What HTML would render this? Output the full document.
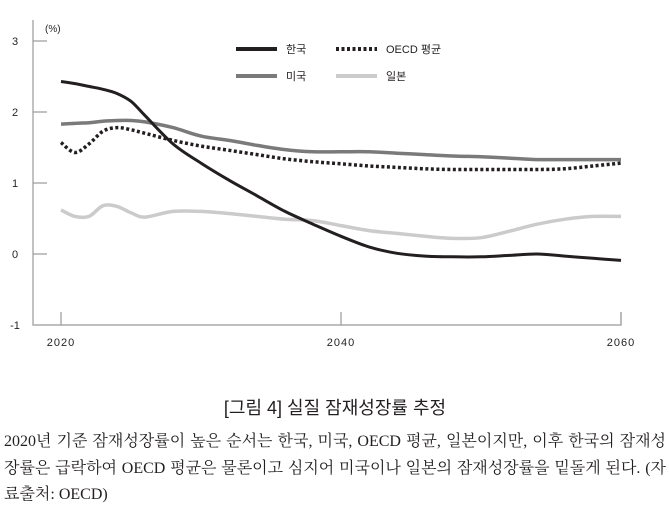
<!DOCTYPE html>
<html><head><meta charset="utf-8"><style>
body{margin:0;width:670px;height:515px;background:#fff;overflow:hidden;font-family:"Liberation Sans","Noto Sans CJK KR",sans-serif;color:#231f20}
svg{position:absolute;left:0;top:0}
.cap{position:absolute;left:0;width:670px;top:394px;text-align:center;font-size:18px;font-family:"Liberation Sans","Noto Sans CJK KR",sans-serif;color:#231f20}
.ln{position:absolute;left:4px;width:662px;font-size:16px;font-family:"Liberation Serif","Noto Serif CJK SC",serif;text-align:justify;text-align-last:justify;white-space:nowrap;color:#231f20;line-height:18px}
.ln.last{text-align-last:left}
</style></head><body>
<svg id="chart" width="670" height="380"></svg>
<div class="cap">[그림 4] 실질 잠재성장률 추정</div>
<div class="ln" style="top:433px">2020년 기준 잠재성장률이 높은 순서는 한국, 미국, OECD 평균, 일본이지만, 이후 한국의 잠재성</div>
<div class="ln" style="top:460px">장률은 급락하여 OECD 평균은 물론이고 심지어 미국이나 일본의 잠재성장률을 밑돌게 된다. (자</div>
<div class="ln last" style="top:486px">료출처: OECD)</div>
<script>
const years=[2020,2021,2022,2023,2024,2025,2026,2028,2030,2032,2034,2036,2038,2040,2042,2044,2046,2048,2050,2052,2054,2056,2058,2060];
const korea=[2.43,2.40,2.36,2.32,2.26,2.15,1.95,1.55,1.28,1.04,0.82,0.60,0.42,0.25,0.10,0.01,-0.03,-0.04,-0.04,-0.02,0.00,-0.03,-0.06,-0.09];
const usa=[1.83,1.84,1.85,1.87,1.88,1.88,1.86,1.78,1.66,1.60,1.53,1.47,1.44,1.44,1.44,1.42,1.40,1.38,1.37,1.35,1.33,1.33,1.33,1.33];
const oecd=[1.57,1.43,1.55,1.73,1.78,1.75,1.70,1.60,1.52,1.46,1.40,1.34,1.30,1.27,1.24,1.22,1.20,1.19,1.19,1.19,1.19,1.20,1.24,1.28];
const japan=[0.62,0.53,0.53,0.68,0.67,0.58,0.52,0.60,0.60,0.57,0.53,0.49,0.47,0.40,0.33,0.29,0.25,0.22,0.23,0.32,0.42,0.49,0.53,0.53];
const yTicks=[3,2,1,0,-1];
const xTicks=[2020,2040,2060];
const seriesNames=["한국","OECD 평균","미국","일본"];

const NS="http://www.w3.org/2000/svg";
const svg=document.getElementById('chart');
const X=y=>61+(y-2020)*14;
const Y=v=>254-v*71;
function mk(t,a,p){const e=document.createElementNS(NS,t);for(const k in a)e.setAttribute(k,a[k]);(p||svg).appendChild(e);return e;}
const ax=mk('path',{d:'M33,20 V325 H621 V312',fill:'none',stroke:'#999','stroke-width':1.2});


yTicks.forEach(t=>{
  if(t>-1){const l=mk('line',{x1:33,x2:47,y1:Y(t),y2:Y(t),stroke:'#999','stroke-width':1.2});
  
  }
  const tx=mk('text',{x:15,y:Y(t)+4,'font-size':11,'text-anchor':'middle',fill:'#231f20'});tx.textContent=t;
  
  
});
xTicks.forEach(t=>{
  const l=mk('line',{x1:X(t),x2:X(t),y1:312,y2:325,stroke:'#999','stroke-width':1.2});
  
  
  const tx=mk('text',{x:X(t),y:346,'font-size':11,'text-anchor':'middle',fill:'#231f20','letter-spacing':'1'});tx.textContent=t;
  
  
});
const u=mk('text',{x:45,y:32,'font-size':10,fill:'#231f20'});u.textContent='(%)';


function line(vals,style,name){
  const pts=vals.map((v,i)=>[X(years[i]),Y(v)]);
  let d='M'+pts[0][0].toFixed(1)+','+pts[0][1].toFixed(1);
  for(let i=0;i<pts.length-1;i++){
    const p0=pts[Math.max(0,i-1)],p1=pts[i],p2=pts[i+1],p3=pts[Math.min(pts.length-1,i+2)];
    const c1=[p1[0]+(p2[0]-p0[0])/6,p1[1]+(p2[1]-p0[1])/6];
    const c2=[p2[0]-(p3[0]-p1[0])/6,p2[1]-(p3[1]-p1[1])/6];
    d+=' C'+c1[0].toFixed(1)+','+c1[1].toFixed(1)+' '+c2[0].toFixed(1)+','+c2[1].toFixed(1)+' '+p2[0].toFixed(1)+','+p2[1].toFixed(1);
  }
  const p=mk('path',Object.assign({d:d,fill:'none','stroke-linejoin':'round'},style));
  
  
}
const sJ={stroke:'#cbcbcb','stroke-width':3.5};
const sU={stroke:'#7a7a7a','stroke-width':3.5};
const sO={stroke:'#231f20','stroke-width':3.5,'stroke-dasharray':'3 2.5'};
const sK={stroke:'#231f20','stroke-width':3};
line(japan,sJ,'japan-line');
line(usa,sU,'usa-line');
line(oecd,sO,'oecd-line');
line(korea,sK,'korea-line');
const leg=[[236,49,sK],[336,49,sO],[236,76,sU],[336,76,sJ]];
leg.forEach((g,i)=>{
  const l=mk('line',Object.assign({x1:g[0],x2:g[0]+41,y1:g[1],y2:g[1]},g[2],{'stroke-width':4}));
  
  
  const t=mk('text',{x:g[0]+50,y:g[1]+4,'font-size':11,fill:'#231f20'});t.textContent=seriesNames[i];
  
  
});
</script>
</body></html>
